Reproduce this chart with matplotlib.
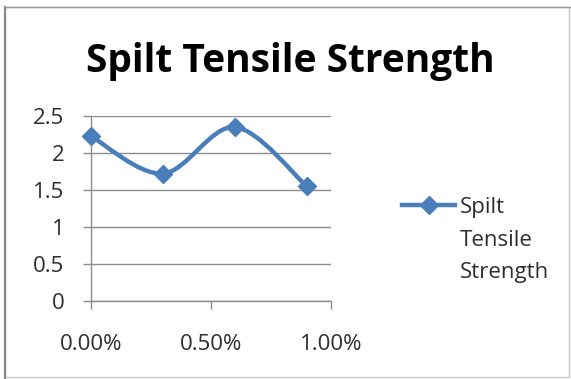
import numpy as np
import matplotlib
matplotlib.use("Agg")
import matplotlib.pyplot as plt
from matplotlib.path import Path
from matplotlib.patches import PathPatch
from matplotlib.lines import Line2D
from matplotlib.ticker import PercentFormatter, MultipleLocator

# Fibre content (fraction) and split tensile strength
fibre_content = [0.0, 0.003, 0.006, 0.009]
tensile_strength = [2.23, 1.72, 2.35, 1.55]
series_name = "Spilt Tensile Strength"
legend_lines = ["Spilt", "Tensile", "Strength"]
chart_title = "Spilt Tensile Strength"

BLUE = "#4a7ebb"
GRID = "#8c8c8c"
TEXT = "#2e2e2e"
FONT = "Open Sans"

W, H = 571, 379
fig = plt.figure(figsize=(W / 100, H / 100), dpi=100)
fig.patch.set_facecolor("white")


def fx(px):
    return px / W


def fy(py):
    return 1 - py / H


ax = fig.add_axes([fx(90.7), fy(300.7), fx(330.7) - fx(90.7), fy(116) - fy(300.7)])
ax.set_xlim(0, 0.01)
ax.set_ylim(0, 2.5)
ax.xaxis.set_major_locator(MultipleLocator(0.005))
ax.yaxis.set_major_locator(MultipleLocator(0.5))
ax.xaxis.set_major_formatter(PercentFormatter(xmax=1, decimals=2))
ax.yaxis.set_major_formatter(plt.FuncFormatter(lambda v, p: f"{v:g}"))

for s in ["top", "right"]:
    ax.spines[s].set_visible(False)
for s in ["left", "bottom"]:
    ax.spines[s].set_color(GRID)
    ax.spines[s].set_linewidth(1.0)

ax.grid(axis="y", color=GRID, linewidth=1.0)
ax.set_axisbelow(True)
ax.tick_params(axis="both", colors=GRID, length=6, width=1.0, direction="out")
ax.tick_params(axis="y", pad=13, labelcolor=TEXT, labelsize=16)
ax.tick_params(axis="x", pad=18, labelcolor=TEXT, labelsize=16)
for lbl in ax.get_xticklabels() + ax.get_yticklabels():
    lbl.set_fontfamily(FONT)

# Smoothed connecting line (cubic Bezier segments through the data points)
pts = np.column_stack([fibre_content, tensile_strength])
ext = np.vstack([pts[0], pts, pts[-1]])
verts = [tuple(pts[0])]
codes = [Path.MOVETO]
for i in range(len(pts) - 1):
    p0, p1, p2, p3 = ext[i], ext[i + 1], ext[i + 2], ext[i + 3]
    c1 = p1 + (p2 - p0) / 6.0
    c2 = p2 - (p3 - p1) / 6.0
    verts += [tuple(c1), tuple(c2), tuple(p2)]
    codes += [Path.CURVE4] * 3
ax.add_patch(PathPatch(Path(verts, codes), facecolor="none", edgecolor=BLUE,
                       linewidth=3.2, capstyle="round", joinstyle="round",
                       zorder=3, clip_on=False))
ax.plot(fibre_content, tensile_strength, linestyle="none", marker="D",
        markersize=9, color=BLUE, zorder=4, clip_on=False, label=series_name)

# Title
fig.text(fx(290), fy(71.7), chart_title, ha="center", va="baseline",
         fontsize=28, fontweight="bold", family=FONT, color="black")

# Legend
fig.add_artist(Line2D([fx(401.7), fx(455)], [fy(205), fy(205)],
                      transform=fig.transFigure, color=BLUE, linewidth=3.2))
fig.add_artist(Line2D([fx(429)], [fy(205)], transform=fig.transFigure,
                      marker="D", markersize=9, color=BLUE, linestyle="none"))
for i, line in enumerate(legend_lines):
    fig.text(fx(460), fy(213 + 32.5 * i), line, ha="left", va="baseline",
             fontsize=16, family=FONT, color=TEXT)

# Chart border
fig.add_artist(Line2D([fx(4.5), fx(568.5), fx(568.5), fx(4.5), fx(4.5)],
                      [fy(7), fy(7), fy(377), fy(377), fy(7)],
                      transform=fig.transFigure, color="#c8c8c8", linewidth=1.0))
fig.add_artist(Line2D([fx(4.5), fx(4.5)], [fy(7), fy(379)],
                      transform=fig.transFigure, color="#8a8a8a", linewidth=1.6))
fig.add_artist(Line2D([fx(4.5), fx(571)], [fy(7), fy(7)],
                      transform=fig.transFigure, color="#9a9a9a", linewidth=1.0))

fig.savefig("out.png", dpi=100)
